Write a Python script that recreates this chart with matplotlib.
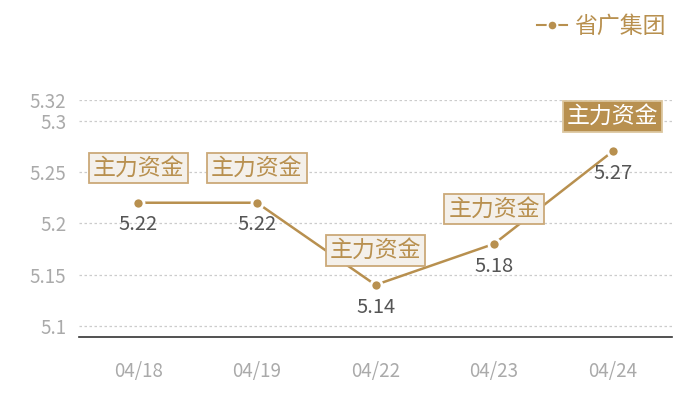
import matplotlib
matplotlib.use('Agg')
import matplotlib.pyplot as plt
from matplotlib.lines import Line2D

plt.rcParams['font.family'] = ['Noto Sans CJK SC', 'DejaVu Sans']

dates = ['04/18', '04/19', '04/22', '04/23', '04/24']
prices = [5.22, 5.22, 5.14, 5.18, 5.27]
tag_text = '主力资金'
y_ticks = [5.1, 5.15, 5.2, 5.25, 5.3, 5.32]
y_tick_labels = ['5.1', '5.15', '5.2', '5.25', '5.3', '5.32']
series_name = '省广集团'

gold = '#b8904f'

fig = plt.figure(figsize=(7, 4), dpi=100, facecolor='white')
ax = fig.add_axes([79 / 700, 63 / 400, 593 / 700, 237 / 400])

x = list(range(len(dates)))
ax.plot(x, prices, color=gold, lw=1.8, marker='o', ms=8,
        markerfacecolor=gold, markeredgecolor='white', markeredgewidth=2, zorder=3)

for i, v in enumerate(prices):
    ax.annotate(f'{v:g}', (i, v), xytext=(0, -16), textcoords='offset points',
                ha='center', va='center', fontsize=14.5, color='#555555', zorder=4)
    last = i == len(prices) - 1
    ax.annotate(tag_text, (i, v), xytext=(0, 25), textcoords='offset points',
                ha='center', va='center', fontsize=16.5,
                color='white' if last else gold, zorder=5, annotation_clip=False,
                bbox=dict(boxstyle='square,pad=0.17',
                          fc=gold if last else '#f4f0ea',
                          ec='#dcc7a0' if last else '#cba978', lw=1.3))

ax.set_xlim(-0.5, len(dates) - 0.5)
ax.set_ylim(5.0893, 5.32)
ax.set_xticks(x)
ax.set_xticklabels(dates)
ax.set_yticks(y_ticks)
ax.set_yticklabels(y_tick_labels)
ax.tick_params(axis='both', length=0, labelsize=13.5, labelcolor='#aaaaaa')
ax.tick_params(axis='x', pad=17)
ax.tick_params(axis='y', pad=9)

ax.grid(axis='y', color='#cccccc', linestyle=(0, (2, 2)), lw=0.9)
ax.set_axisbelow(True)
for s in ['top', 'right', 'left']:
    ax.spines[s].set_visible(False)
ax.spines['bottom'].set_color('#333333')
ax.spines['bottom'].set_linewidth(1.2)

handle = Line2D([], [], color=gold, lw=1.5, marker='o', ms=7,
                markerfacecolor=gold, markeredgecolor='white', markeredgewidth=1.5)
fig.legend([handle], [series_name], loc='upper right', bbox_to_anchor=(0.98, 1.015),
           frameon=False, fontsize=16.5, labelcolor=gold, handlelength=1.3,
           handletextpad=0.3)

fig.savefig('out.png', dpi=100, facecolor='white')
